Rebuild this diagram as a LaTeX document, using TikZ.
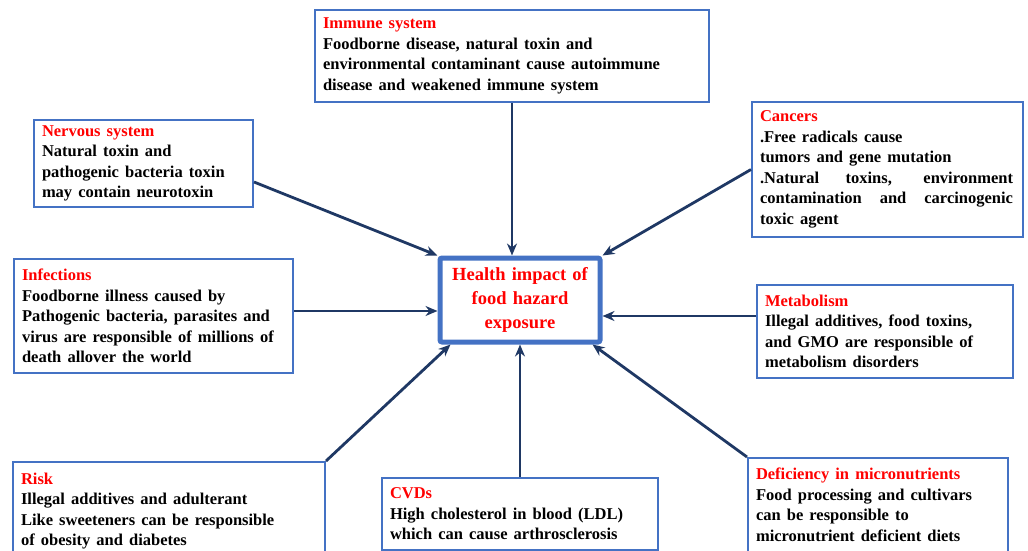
\documentclass[tikz,border=0pt]{standalone}
\usepackage{fontspec}
\setmainfont{Liberation Serif}
\usetikzlibrary{arrows.meta}

\definecolor{boxblue}{HTML}{4472C4}
\definecolor{arrownavy}{HTML}{1F3864}
\definecolor{titlered}{HTML}{FF0000}

\newcommand{\boxtitle}[1]{\textcolor{titlered}{#1}}

\begin{document}
\begin{tikzpicture}[
    x=1pt, y=-1pt,
    effect/.style={draw=boxblue, line width=2pt, fill=white, align=left, inner xsep=8pt, inner ysep=0pt, font=\fontsize{16.5}{20.5}\selectfont\bfseries, execute at begin node={\spaceskip=0.37em plus 0.6em minus 0.05em}},
    hub/.style={draw=boxblue, line width=5pt, rounded corners=2pt, fill=white, align=center, text=titlered, font=\fontsize{18.5}{24}\selectfont\bfseries},
    arrow/.style={-{Stealth[length=12pt,width=10pt]}, line width=2.8pt, arrownavy}
]
    \useasboundingbox (0,0) rectangle (1028,551);

    % Central box
    \node[hub, text width=146pt, minimum width=160pt, minimum height=84pt] (hub) at (520,300) {Health impact of\\food hazard\\exposure};

    % Effect boxes
    \node[effect, text width=378pt, minimum height=92pt] (immune) at (512,56) {\boxtitle{Immune system}\\Foodborne disease, natural toxin and\\environmental contaminant cause autoimmune\\disease and weakened immune system};
    \node[effect, text width=203pt, minimum height=87pt] (nervous) at (143.5,163.5) {\boxtitle{Nervous system}\\Natural toxin and\\pathogenic bacteria toxin\\may contain neurotoxin};
    \node[effect, text width=255pt, minimum height=135pt] (cancers) at (887.5,169.5) {\boxtitle{Cancers}\\.Free radicals cause\\tumors and gene mutation\\\makebox[253pt][s]{.Natural toxins, environment}\\\makebox[253pt][s]{contamination and carcinogenic}\\toxic agent};
    \node[effect, text width=263pt, minimum height=114pt] (infections) at (153.5,316) {\boxtitle{Infections}\\Foodborne illness caused by\\Pathogenic bacteria, parasites and\\virus are responsible of millions of\\death allover the world};
    \node[effect, text width=240pt, minimum height=93pt] (metabolism) at (885,331.5) {\boxtitle{Metabolism}\\Illegal additives, food toxins,\\and GMO are responsible of\\metabolism disorders};
    \node[effect, text width=296pt, minimum height=98pt] (risk) at (169,511) {\boxtitle{Risk}\\Illegal additives and adulterant\\Like sweeteners can be responsible\\of obesity and diabetes};
    \node[effect, text width=260pt, minimum height=72pt] (cvds) at (520,514) {\boxtitle{CVDs}\\High cholesterol in blood (LDL)\\which can cause arthrosclerosis};
    \node[effect, text width=244pt, minimum height=94pt] (deficiency) at (878,505) {\boxtitle{Deficiency in micronutrients}\\Food processing and cultivars\\can be responsible to\\micronutrient deficient diets};

    % Arrows into the centre
    \draw[arrow] (immune.south) -- (immune.south |- hub.north);
    \draw[arrow] ([yshift=-18.5pt]nervous.east) -- (hub.north west);
    \draw[arrow] (cancers.west) -- (hub.north east);
    \draw[arrow] ([yshift=5pt]infections.east) -- ([yshift=5pt]infections.east -| hub.west);
    \draw[arrow] ([yshift=15.5pt]metabolism.west) -- ([yshift=15.5pt]metabolism.west -| hub.east);
    \draw[arrow] (risk.north east) -- ([xshift=13pt]hub.south west);
    \draw[arrow] (cvds.north) -- (hub.south);
    \draw[arrow] (deficiency.north west) -- ([xshift=-10pt]hub.south east);
\end{tikzpicture}
\end{document}
